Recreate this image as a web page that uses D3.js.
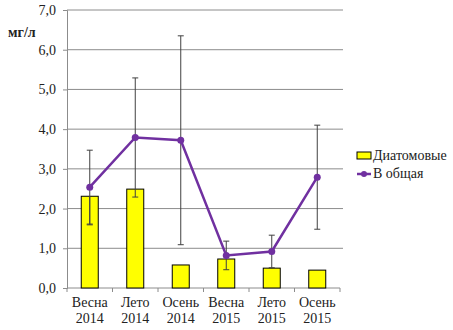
<!DOCTYPE html>
<html>
<head>
<meta charset="utf-8">
<script src="https://cdn.jsdelivr.net/npm/d3@7"></script>
<style>
  body { margin: 0; background: #fff; }
</style>
</head>
<body>
<div id="chart"></div>
<script>
// data
var seasons = ["Весна", "Лето", "Осень", "Весна", "Лето", "Осень"];
var years = ["2014", "2014", "2014", "2015", "2015", "2015"];
var diatoms = [2.31, 2.49, 0.58, 0.73, 0.50, 0.45];
var diatomsErr = [0.72, 0, 0, 0, 0, 0];   // only the minus side is visible
var total = [2.54, 3.79, 3.72, 0.82, 0.92, 2.79];
var totalErr = [0.93, 1.50, 2.63, 0.36, 0.41, 1.31];
var yTicks = [0, 1, 2, 3, 4, 5, 6, 7];

var FONT = "'Liberation Serif', 'Times New Roman', Tinos, 'DejaVu Serif', serif";

var W = 453, H = 330;
var margin = { top: 10, left: 67, right: 113, bottom: 42 };
var width = W - margin.left - margin.right;
var height = H - margin.top - margin.bottom;

var svg = d3.select("#chart").append("svg")
    .attr("width", W)
    .attr("height", H)
    .style("font-family", FONT);

var g = svg.append("g")
    .attr("transform", "translate(" + margin.left + "," + margin.top + ")");

var cats = d3.range(diatoms.length);

var x = d3.scaleBand()
    .domain(cats)
    .range([0, width]);

var y = d3.scaleLinear()
    .domain([0, 7])
    .range([height, 0]);

function cx(d) { return x(d) + x.bandwidth() / 2; }

// gridlines
g.selectAll(".grid")
    .data(yTicks.slice(1))
    .enter().append("line")
    .attr("x1", 0)
    .attr("x2", width + 3)
    .attr("y1", function(d) { return y(d); })
    .attr("y2", function(d) { return y(d); })
    .attr("stroke", "#8c8c8c")
    .attr("stroke-width", 1);

// y axis
var yAxis = d3.axisLeft(y)
    .tickValues(yTicks)
    .tickSize(4)
    .tickFormat(function(d) { return d3.format(".1f")(d).replace(".", ","); });

var yG = g.append("g").call(yAxis);
yG.attr("font-family", null);
yG.select(".domain").attr("stroke", "#8c8c8c");
yG.selectAll(".tick line").attr("stroke", "#8c8c8c");
yG.selectAll(".tick text")
    .attr("x", -11)
    .attr("font-size", 14)
    .style("font-family", FONT)
    .attr("fill", "#222");

// x axis
var xG = g.append("g")
    .attr("transform", "translate(0," + height + ")");
xG.append("line")
    .attr("x1", 0).attr("x2", width)
    .attr("stroke", "#8c8c8c");
xG.selectAll(".xtick")
    .data(d3.range(diatoms.length + 1))
    .enter().append("line")
    .attr("x1", function(d) { return d * x.step(); })
    .attr("x2", function(d) { return d * x.step(); })
    .attr("y1", 0).attr("y2", 4)
    .attr("stroke", "#8c8c8c");

var lbl = xG.selectAll(".xlbl")
    .data(cats)
    .enter().append("text")
    .attr("text-anchor", "middle")
    .attr("font-size", 14)
    .style("font-family", FONT)
    .attr("fill", "#222");
lbl.append("tspan").attr("y", 19).attr("x", cx)
    .text(function(d) { return seasons[d]; });
lbl.append("tspan").attr("y", 35).attr("x", cx)
    .text(function(d) { return years[d]; });

// bars
var barW = 17;
g.selectAll(".bar")
    .data(cats)
    .enter().append("rect")
    .attr("x", function(d) { return cx(d) - barW / 2; })
    .attr("y", function(d) { return y(diatoms[d]); })
    .attr("width", barW)
    .attr("height", function(d) { return height - y(diatoms[d]); })
    .attr("fill", "#ffff00")
    .attr("stroke", "#000")
    .attr("stroke-width", 1);

// error bars
function errBars(vals, errs, plus) {
    var eg = g.append("g").attr("stroke", "#404040").attr("stroke-width", 1);
    cats.filter(function(d) { return errs[d] > 0; }).forEach(function(d) {
        var c = cx(d);
        var lo = y(vals[d] - errs[d]);
        var hi = plus ? y(vals[d] + errs[d]) : y(vals[d]);
        eg.append("line").attr("x1", c).attr("x2", c).attr("y1", lo).attr("y2", hi);
        eg.append("line").attr("x1", c - 3).attr("x2", c + 3).attr("y1", lo).attr("y2", lo);
        if (plus) {
            eg.append("line").attr("x1", c - 3).attr("x2", c + 3).attr("y1", hi).attr("y2", hi);
        }
    });
}
errBars(diatoms, diatomsErr, false);
errBars(total, totalErr, true);

// line
var purple = "#7030a0";
var line = d3.line()
    .x(function(d, i) { return cx(i); })
    .y(function(d) { return y(d); });

g.append("path")
    .datum(total)
    .attr("d", line)
    .attr("fill", "none")
    .attr("stroke", purple)
    .attr("stroke-width", 2.5);

g.selectAll(".pt")
    .data(total)
    .enter().append("circle")
    .attr("cx", function(d, i) { return cx(i); })
    .attr("cy", function(d) { return y(d); })
    .attr("r", 3.5)
    .attr("fill", purple);

// y label
svg.append("text")
    .attr("x", 8)
    .attr("y", 37)
    .attr("font-size", 14)
    .attr("font-weight", "bold")
    .attr("fill", "#222")
    .text("мг/л");

// legend
var leg = svg.append("g").attr("transform", "translate(357,156)");
leg.append("rect")
    .attr("x", 0).attr("y", -4)
    .attr("width", 14).attr("height", 7)
    .attr("fill", "#ffff00")
    .attr("stroke", "#000");
leg.append("text")
    .attr("x", 16).attr("y", 4)
    .attr("font-size", 14)
    .attr("fill", "#222")
    .text("Диатомовые");
leg.append("line")
    .attr("x1", 0).attr("x2", 14)
    .attr("y1", 18).attr("y2", 18)
    .attr("stroke", purple)
    .attr("stroke-width", 2.5);
leg.append("circle")
    .attr("cx", 7).attr("cy", 18).attr("r", 3)
    .attr("fill", purple);
leg.append("text")
    .attr("x", 16).attr("y", 22)
    .attr("font-size", 14)
    .attr("fill", "#222")
    .text("В общая");
</script>
</body>
</html>
